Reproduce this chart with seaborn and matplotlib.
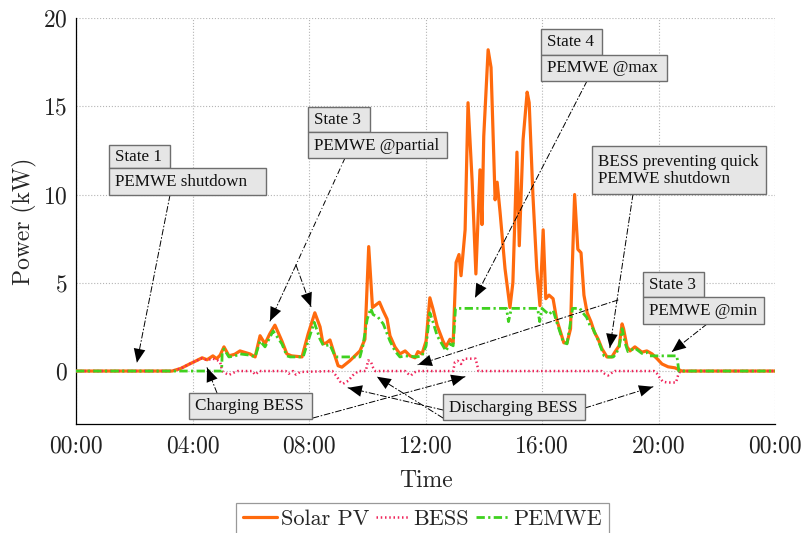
import matplotlib
matplotlib.use("Agg")
import matplotlib.pyplot as plt
import pandas as pd
import seaborn as sns
from matplotlib.patches import Rectangle
from matplotlib.lines import Line2D

# ---- power profiles over one day (time in hours, power in kW) ----
solar_t = [0, 3.3, 3.6, 3.9, 4.15, 4.33, 4.5, 4.7, 4.83, 4.95, 5.08, 5.25, 5.45, 5.63,
           5.97, 6.15, 6.32, 6.49, 6.65, 6.83, 7.07, 7.24, 7.4, 7.76, 7.97, 8.2, 8.38,
           8.48, 8.6, 8.72, 8.89, 9.0, 9.13, 9.4, 9.75, 9.92, 10.05, 10.18, 10.3, 10.42,
           10.55, 10.68, 10.78, 10.95, 11.12, 11.3, 11.47, 11.64, 11.74, 11.88, 12.02,
           12.15, 12.26, 12.4, 12.6, 12.7, 12.84, 12.95, 13.05, 13.15, 13.22, 13.36,
           13.46, 13.6, 13.73, 13.87, 13.94, 14.0, 14.15, 14.25, 14.39, 14.46, 14.56,
           14.73, 14.9, 15.0, 15.14, 15.22, 15.35, 15.49, 15.56, 15.69, 15.82, 15.93,
           16.04, 16.13, 16.24, 16.38, 16.5, 16.62, 16.75, 16.86, 16.98, 17.03, 17.12,
           17.23, 17.34, 17.44, 17.55, 17.68, 17.8, 17.93, 18.06, 18.23, 18.4, 18.5,
           18.65, 18.75, 18.8, 18.92, 19.02, 19.19, 19.43, 19.6, 19.78, 19.95, 20.12,
           20.33, 20.57, 20.67, 20.8, 24]
solar_kw = [0, 0, 0.15, 0.4, 0.6, 0.75, 0.64, 0.86, 0.7, 0.9, 1.37, 0.86, 0.95, 1.14,
            0.97, 0.8, 2.0, 1.54, 2.1, 2.6, 1.7, 0.97, 0.86, 0.8, 2.1, 3.3, 2.5,
            1.54, 1.6, 1.76, 0.86, 0.3, 0.22, 0.58, 1.14, 1.8, 7.05, 3.6, 3.75, 3.9,
            3.4, 2.95, 2.0, 1.37, 0.97, 1.14, 0.86, 0.75, 1.1, 0.97, 1.7,
            4.15, 3.5, 2.56, 1.7, 1.37, 1.8, 1.6, 6.15, 6.6, 5.4, 8.0,
            15.2, 10.8, 5.5, 11.4, 8.3, 13.3, 18.2, 17.2, 9.7, 10.7, 9.0,
            5.8, 3.6, 5.0, 12.4, 7.1, 13.1, 15.8, 15.2, 9.9, 5.8, 3.7,
            8.0, 4.1, 4.3, 4.1, 2.95, 2.3, 1.6, 1.6, 2.4, 5.4, 10.0,
            6.9, 6.7, 4.3, 3.3, 2.8, 2.2, 1.8, 1.26, 0.8, 0.8, 1.07,
            1.43, 2.67, 2.4, 1.37, 1.14, 1.37, 1.07, 1.14, 0.97, 0.7, 0.4,
            0.24, 0.18, 0.1, 0.0, 0]

bess_t = [0, 3.3, 3.6, 3.9, 4.15, 4.33, 4.5, 4.7, 4.85, 4.95, 5.02, 5.1, 5.25, 5.4,
          5.55, 6.05, 6.15, 6.3, 7.2, 7.3, 7.45, 7.55, 7.7, 8.8, 8.95, 9.07, 9.17,
          9.35, 9.5, 9.7, 9.95, 10.03, 10.12, 10.2, 10.28, 11.3, 11.4, 11.5, 11.6,
          11.7, 12.95, 13.01, 13.1, 13.22, 13.32, 13.72, 13.78, 13.82, 18.05, 18.15,
          18.27, 18.4, 18.5, 19.85, 19.95, 20.05, 20.15, 20.3, 20.6, 20.68, 20.75, 24]
bess_kw = [0, 0, 0.15, 0.4, 0.6, 0.72, 0.62, 0.7, 0.62, 0.5, 0.0, -0.1, -0.22, -0.1,
           0.0, 0.0, -0.2, 0.0, 0.0, -0.15, 0.0, -0.2, -0.05, 0.0, -0.3, -0.6, -0.72,
           -0.55, -0.25, 0.0, 0.0, 0.6, 0.55, 0.2, 0.0, 0.0, -0.15, -0.25, -0.1,
           0.0, 0.0, 0.5, 0.58, 0.4, 0.7, 0.7, 0.3, 0.0, 0.0, -0.15,
           -0.25, -0.1, 0.0, 0.0, -0.15, -0.4, -0.6, -0.65, -0.65, -0.2, 0.0, 0]

pemwe_t = [0, 5.0, 5.02, 5.08, 5.25, 5.45, 5.63, 5.97, 6.15, 6.32, 6.49, 6.77, 7.07,
           7.24, 7.35, 7.8, 7.97, 8.18, 8.38, 8.5, 8.72, 8.89, 8.95, 9.75, 9.85, 10.0,
           10.12, 10.2, 10.37, 10.55, 10.78, 10.95, 11.12, 11.3, 11.7, 11.88, 12.02,
           12.15, 12.26, 12.4, 12.6, 12.7, 12.84, 12.95, 13.03, 14.78, 14.85, 14.95,
           15.85, 15.92, 16.0, 16.1, 16.24, 16.38, 16.5, 16.73, 16.86, 16.96, 17.05,
           17.3, 17.4, 17.53, 17.65, 17.75, 17.88, 18.0, 18.13, 18.2, 18.45, 18.55,
           18.65, 18.75, 18.85, 18.95, 19.19, 19.43, 19.6, 19.7, 20.63, 20.7, 24]
pemwe_kw = [0, 0, 1.1, 1.25, 0.8, 0.85, 0.97, 0.9, 0.8, 1.7, 1.37, 2.27, 1.54,
            0.86, 0.8, 0.8, 1.7, 2.76, 1.8, 1.43, 1.48, 0.86, 0.8, 0.8, 1.43, 2.95,
            3.55, 3.2, 3.05, 2.67, 1.7, 1.14, 0.8, 0.86, 0.8, 0.86, 1.43,
            3.3, 2.76, 2.0, 1.43, 1.14, 1.54, 1.43, 3.55, 3.55, 2.8, 3.55,
            3.55, 2.8, 3.55, 3.4, 3.2, 3.45, 2.8, 1.64, 1.54, 2.56, 3.55,
            3.55, 3.3, 3.05, 2.56, 2.4, 1.93, 1.43, 0.86, 0.8, 0.8, 1.0,
            1.37, 2.4, 1.6, 1.1, 1.3, 1.0, 1.05, 0.86, 0.86, 0.0, 0]

hour_ticks = [0, 4, 8, 12, 16, 20, 24]
hour_labels = ["00:00", "04:00", "08:00", "12:00", "16:00", "20:00", "00:00"]
power_ticks = [0, 5, 10, 15, 20]

C_SOLAR = "#ff6a0d"
C_BESS = "#f0245a"
C_PEMWE = "#3fd11f"
LS_BESS = (0, (0.6, 1.1))
LS_PEMWE = (0, (3, 1.2, 0.8, 1.2))

sns.set_style("white")
plt.rcParams.update({
    "font.family": "cmr10",
    "mathtext.fontset": "cm",
    "axes.formatter.use_mathtext": True,
    "axes.unicode_minus": False,
})

W, H = 802, 533
fig = plt.figure(figsize=(W / 100, H / 100), dpi=100)
ax = fig.add_axes([76 / W, 1 - 424 / H, (775 - 76) / W, (424 - 18) / H])

solar = pd.DataFrame({"t": solar_t, "kw": solar_kw})
bess = pd.DataFrame({"t": bess_t, "kw": bess_kw})
pemwe = pd.DataFrame({"t": pemwe_t, "kw": pemwe_kw})

sns.lineplot(data=solar, x="t", y="kw", ax=ax, color=C_SOLAR, lw=2.3,
             estimator=None, zorder=3)
sns.lineplot(data=bess, x="t", y="kw", ax=ax, color=C_BESS, lw=1.8,
             estimator=None, zorder=4, linestyle=LS_BESS)
sns.lineplot(data=pemwe, x="t", y="kw", ax=ax, color=C_PEMWE, lw=2.0,
             estimator=None, zorder=5, linestyle=LS_PEMWE)

ax.set_xlim(0, 24)
ax.set_ylim(-3, 20)
ax.set_xticks(hour_ticks)
ax.set_xticklabels(hour_labels)
ax.set_yticks(power_ticks)
ax.grid(True, ls=":", color="#b5b5b5", lw=0.8)
for side in ("top", "right"):
    ax.spines[side].set_visible(False)
for side in ("left", "bottom"):
    ax.spines[side].set_color("black")
    ax.spines[side].set_linewidth(0.9)
ax.tick_params(direction="in", length=4, width=0.8, labelsize=17, pad=6,
               colors="black", labelcolor="#222222")
ax.tick_params(axis="x", pad=8)
ax.set_xlabel("Time", fontsize=17, labelpad=9)
ax.set_ylabel("Power (kW)", fontsize=17, labelpad=4)

handles = [Line2D([], [], color=C_SOLAR, lw=2.3),
           Line2D([], [], color=C_BESS, lw=1.8, linestyle=LS_BESS),
           Line2D([], [], color=C_PEMWE, lw=2.0, linestyle=LS_PEMWE)]
leg = ax.legend(handles, ["Solar PV", "BESS", "PEMWE"], loc="upper center",
                bbox_to_anchor=(422.5 / W, 1 - 503 / H), bbox_transform=fig.transFigure,
                ncol=3, frameon=True, fancybox=False, fontsize=16, handlelength=1.55,
                columnspacing=0.3, handletextpad=0.15, borderpad=0.3,
                borderaxespad=0)
leg.get_frame().set_edgecolor("#808080")
leg.get_frame().set_linewidth(0.9)


def ff(x, y):
    """figure fraction from pixel position measured from the top-left corner"""
    return (x / W, 1 - y / H)


ANN_FONT = dict(family="Liberation Serif", size=12.3, color="#111111")
DASHDOT = (0, (6, 2.5, 1, 2.5))


def box(text, x0, y0, x1, y1):
    fig.add_artist(Rectangle(ff(x0, y1), (x1 - x0) / W, (y1 - y0) / H,
                             transform=fig.transFigure, facecolor="#e6e6e6",
                             edgecolor="#6e6e6e", lw=1.0, zorder=10))
    fig.text(*ff(x0 + 6, (y0 + y1) / 2 + 0.5), text, ha="left", va="center",
             linespacing=1.15, zorder=11, **ANN_FONT)


def arrow(tip, start_px):
    # dash-dot shaft, then a solid dart head on the same direction
    ax.annotate("", xy=tip, xycoords="data", xytext=ff(*start_px),
                textcoords="figure fraction", zorder=8, annotation_clip=False,
                arrowprops=dict(arrowstyle="-", color="black", lw=0.7,
                                linestyle=DASHDOT, shrinkA=0, shrinkB=0))
    ax.annotate("", xy=tip, xycoords="data", xytext=ff(*start_px),
                textcoords="figure fraction", zorder=9, annotation_clip=False,
                arrowprops=dict(arrowstyle="-|>,head_length=1.0,head_width=0.42",
                                mutation_scale=10, color="black", lw=0.0,
                                shrinkA=0, shrinkB=0))


def segment(p0, p1):
    (x0, y0), (x1, y1) = ff(*p0), ff(*p1)
    fig.add_artist(Line2D([x0, x1], [y0, y1], transform=fig.transFigure,
                          color="black", lw=0.7, linestyle=DASHDOT, zorder=8))


# state callouts
box("State 1", 109, 145, 170, 168)
box("PEMWE shutdown", 109, 168, 266, 195)
arrow((2.09, 0.47), (170, 195))

box("State 3", 308, 107, 370, 132)
box("PEMWE @partial", 308, 132, 447, 158)
segment((345, 158), (296, 265))
arrow((6.66, 2.83), (296, 265))
arrow((8.07, 3.64), (296, 265))

box("State 4", 541, 29, 602, 55)
box("PEMWE @max", 541, 55, 667, 81)
arrow((13.70, 4.15), (587, 81))

box("BESS preventing quick\nPEMWE shutdown", 592, 146, 766, 194)
arrow((18.33, 1.32), (633, 194))
arrow((11.74, 0.36), (618, 300))

box("State 3", 643, 272, 704, 297)
box("PEMWE @min", 643, 297, 764, 324)
arrow((20.46, 1.09), (707, 324))

box("Charging BESS", 189, 393, 312, 419)
arrow((4.50, 0.19), (217, 393))
arrow((13.36, -0.32), (313, 418))

box("Discharging BESS", 443, 394, 585, 420)
arrow((9.34, -0.95), (443, 410))
arrow((10.33, -0.32), (443, 418))
arrow((19.81, -0.89), (585, 408))

fig.savefig("out.png", dpi=100)
